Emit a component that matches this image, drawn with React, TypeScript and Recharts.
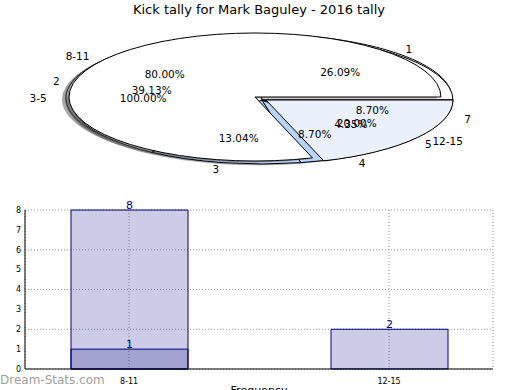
import React from 'react';
import { PieChart, Pie, Cell, BarChart, Bar, XAxis, YAxis, CartesianGrid, LabelList } from 'recharts';

const title = 'Kick tally for Mark Baguley - 2016 tally';

// games per kick count
const kickLabels = ['1', '2', '3', '4', '5', '7'];
const kickGames = [6, 9, 3, 2, 1, 2];
const kickColors = ['#ffffff', '#ffffff', '#b7d3f7', '#b7d3f7', '#ffffff', '#b0b0b0'];

// games per kick range
const rangeLabels = ['8-11', '12-15'];
const rangeGames = [8, 2];

const lowLabels = ['3-5'];
const lowGames = [1];

// bar chart
const barCats = ['8-11', '12-15'];
const barTotals = [8, 2];
const barInner = [1, null];
const yTicks = [0, 1, 2, 3, 4, 5, 6, 7, 8];

const kicks = kickLabels.map((name, i) => ({ name, value: kickGames[i] }));
const ranges = rangeLabels.map((name, i) => ({ name, value: rangeGames[i] }));
const low = lowLabels.map((name, i) => ({ name, value: lowGames[i] }));
const barRows = barCats.map((name, i) => ({ pos: i, name, total: barTotals[i], inner: barInner[i] }));

const FONT = '"DejaVu Sans", sans-serif';
const RY = 64;
const RAD = Math.PI / 180;

// pie geometry (circles squashed into ellipses, like matplotlib without equal aspect)
const geo: Record<string, { cx: number; cy: number; r: number }> = {
  shadow: { cx: 255, cy: 99.5, r: 193 },
  base: { cx: 259, cy: 98, r: 193 },
  kshadow: { cx: 258, cy: 101.3, r: 191 },
  kicks: { cx: 262, cy: 100, r: 191 },
  gshadow: { cx: 251, cy: 98.4, r: 186 },
  groups: { cx: 255, cy: 97, r: 186 },
  explode: { cx: 266, cy: 100, r: 187 },
};

const css = Object.entries(geo)
  .map(
    ([k, g]) =>
      `.pie-${k} .recharts-sector{transform-origin:${g.cx}px ${g.cy}px;transform:scaleY(${RY / g.r});vector-effect:non-scaling-stroke;}`
  )
  .join('\n');

const ellLabel = (only?: string[]) => (p: any) => {
  const { cx, cy, midAngle, outerRadius, percent, name, index } = p;
  if (only && !only.includes(name)) return null;
  const c = Math.cos(midAngle * RAD);
  const s = Math.sin(midAngle * RAD);
  const lx = cx + 1.1 * outerRadius * c;
  const ly = cy - 1.1 * RY * s;
  const px = cx + 0.6 * outerRadius * c;
  const py = cy - 0.6 * RY * s;
  return (
    <g key={`l-${name}-${index}`}>
      <text x={lx} y={ly} textAnchor={c >= 0 ? 'start' : 'end'} dominantBaseline="central" fontSize={10.5} fontFamily={FONT} fill="#000">
        {name}
      </text>
      <text x={px} y={py} textAnchor="middle" dominantBaseline="central" fontSize={10.5} fontFamily={FONT} fill="#000">
        {(percent * 100).toFixed(2)}%
      </text>
    </g>
  );
};

const pieProps = (k: string) => ({
  className: `pie-${k}`,
  cx: geo[k].cx,
  cy: geo[k].cy,
  outerRadius: geo[k].r,
  innerRadius: 0,
  startAngle: 0,
  endAngle: 360,
  dataKey: 'value',
  isAnimationActive: false,
  label: false as const,
  labelLine: false,
});

export default function App() {
  return (
    <div style={{ position: 'absolute', left: 0, top: 0, width: 520, height: 390, background: '#fff', fontFamily: FONT, overflow: 'hidden' }}>
      <style>{css}</style>
      <div style={{ position: 'absolute', top: 0, left: 0, width: 518, textAlign: 'center', fontSize: 13, lineHeight: '20px', color: '#000' }}>{title}</div>

      <div style={{ position: 'absolute', left: 0, top: 0 }}>
        <PieChart width={520} height={190} margin={{ top: 0, right: 0, bottom: 0, left: 0 }}>
          <Pie {...pieProps('shadow')} data={low} fill="#4d4d4d" fillOpacity={0.5} stroke="none" />
          <Pie {...pieProps('base')} data={low} fill="#fff" stroke="#000" strokeWidth={1} />
          <Pie {...pieProps('kshadow')} data={kicks} fill="#4d4d4d" fillOpacity={0.5} stroke="none" />
          <Pie {...pieProps('kicks')} data={kicks} stroke="#000" strokeWidth={1}>
            {kicks.map((d, i) => (
              <Cell key={d.name} fill={kickColors[i]} />
            ))}
          </Pie>
          <Pie {...pieProps('gshadow')} data={ranges} stroke="none">
            {ranges.map((d, i) => (
              <Cell key={d.name} fill={i === 0 ? '#4d4d4d' : 'none'} fillOpacity={0.5} />
            ))}
          </Pie>
          <Pie {...pieProps('groups')} data={ranges} strokeWidth={1}>
            {ranges.map((d, i) => (
              <Cell key={d.name} fill={i === 0 ? '#fff' : 'none'} stroke={i === 0 ? '#000' : 'none'} />
            ))}
          </Pie>
          <Pie {...pieProps('explode')} data={ranges} strokeWidth={1}>
            {ranges.map((d, i) => (
              <Cell key={d.name} fill={i === 1 ? '#ebf1fc' : 'none'} stroke={i === 1 ? '#000' : 'none'} />
            ))}
          </Pie>

          {/* text layers on top */}
          <Pie {...pieProps('base')} className="lbl" data={low} fill="none" stroke="none" label={ellLabel()} />
          <Pie {...pieProps('kicks')} className="lbl" data={kicks} fill="none" stroke="none" label={ellLabel()} />
          <Pie {...pieProps('groups')} className="lbl" data={ranges} fill="none" stroke="none" label={ellLabel(['8-11'])} />
          <Pie {...pieProps('explode')} className="lbl" data={ranges} fill="none" stroke="none" label={ellLabel(['12-15'])} />
        </PieChart>
      </div>

      <div style={{ position: 'absolute', left: 0, top: 190 }}>
        <BarChart width={520} height={200} data={barRows} margin={{ top: 20, right: 27, bottom: 0, left: 0 }}>
          <CartesianGrid stroke="#999" strokeDasharray="1 2" />
          <XAxis
            dataKey="pos"
            type="number"
            domain={[-0.4, 1.4]}
            ticks={[0, 1]}
            tickFormatter={(v: number) => barCats[v]}
            height={21}
            tickLine={false}
            axisLine={{ stroke: '#000' }}
            tick={{ fontSize: 8, fill: '#000', fontFamily: FONT }}
            tickMargin={3}
            label={{ value: 'Frequency', position: 'insideBottom', offset: -4, fontSize: 11, fill: '#000', fontFamily: FONT }}
          />
          <XAxis xAxisId="inner" dataKey="pos" type="number" domain={[-0.4, 1.4]} hide />
          <XAxis xAxisId="top" dataKey="pos" orientation="top" type="number" domain={[-0.4, 1.4]} height={0} tick={false} tickLine={false} axisLine={{ stroke: '#000' }} />
          <YAxis
            domain={[0, 8]}
            ticks={yTicks}
            width={25}
            tickLine={false}
            tickSize={0}
            axisLine={{ stroke: '#000' }}
            tick={{ fontSize: 8, fill: '#000', fontFamily: FONT }}
            tickMargin={4}
          />
          <YAxis yAxisId="right" orientation="right" domain={[0, 8]} width={0} tick={false} tickLine={false} axisLine={{ stroke: '#000' }} />
          <Bar dataKey="total" fill="#000080" fillOpacity={0.2} stroke="#000080" strokeWidth={1} barSize={117} isAnimationActive={false}>
            <LabelList dataKey="total" position="top" offset={1} fill="#00008b" fontSize={11} fontFamily={FONT} />
          </Bar>
          <Bar xAxisId="inner" dataKey="inner" fill="#000080" fillOpacity={0.2} stroke="#000080" strokeWidth={1} barSize={117} isAnimationActive={false}>
            <LabelList dataKey="inner" position="top" offset={1} fill="#00008b" fontSize={11} fontFamily={FONT} />
          </Bar>
        </BarChart>
      </div>

      <div style={{ position: 'absolute', left: 0, top: 372, fontSize: 12, lineHeight: '16px', color: '#a0a0a0' }}>Dream-Stats.com</div>
    </div>
  );
}
